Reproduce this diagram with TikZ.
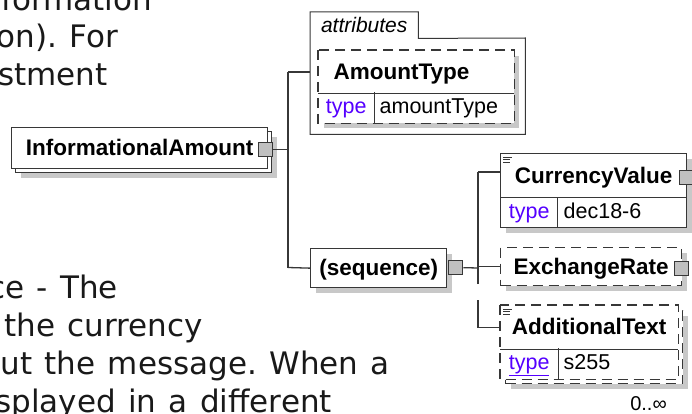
\documentclass[tikz,border=0pt]{standalone}
\usepackage{fontspec}
\setmainfont{Liberation Sans}
\newfontfamily\bodyfont{DejaVu Sans}[WordSpace=1.25]
\usetikzlibrary{positioning, shadows}
\frenchspacing

\definecolor{frame}{RGB}{55,55,55}
\definecolor{shadowgray}{RGB}{200,200,200}
\definecolor{typelink}{RGB}{85,0,255}
\definecolor{knobgray}{RGB}{192,192,192}

% three short lines = documentation marker
\newcommand\docmark[1]{%
  \draw[line width=0.6pt, frame] ([xshift=3pt, yshift=-4pt]#1.north west) -- ++(9,0);
  \draw[line width=0.6pt, frame] ([xshift=3pt, yshift=-6.5pt]#1.north west) -- ++(7,0);
  \draw[line width=0.6pt, frame] ([xshift=3pt, yshift=-9pt]#1.north west) -- ++(7,0);}

\begin{document}
\begin{tikzpicture}[
  x=1pt, y=-1pt,
  line/.style={frame, line width=1.3pt},
  box/.style={draw=frame, line width=1.3pt, fill=white, inner sep=0pt,
    anchor=north west, text height=16pt, text depth=1pt,
    font=\fontsize{22.5}{26}\selectfont\bfseries},
  optbox/.style={box, dash pattern=on 10pt off 6pt},
  plain/.style={box, draw=none},
  cell/.style={box, text height=15.5pt, text depth=4.5pt,
    font=\fontsize{21.5}{24}\selectfont, minimum height=30pt},
  plaincell/.style={cell, draw=none},
  shadowed/.style={drop shadow={shadow xshift=5pt, shadow yshift=-5pt,
    fill=shadowgray, opacity=1}},
  knob/.style={draw=frame, line width=1pt, fill=knobgray,
    minimum width=14pt, minimum height=14pt, inner sep=0pt},
  prose/.style={font=\bodyfont\fontsize{31}{38}\selectfont,
    anchor=base east, inner sep=0pt, text=black!90},
]
\useasboundingbox (0,0) rectangle (692,414);
\clip (0,0) rectangle (692,414);

% === text of the page behind the figure ===
\node[prose] (txtA) at (152,11) {formation};
\node[prose] (txtB) at (118,48) {on). For};
\node[prose] (txtC) at (108,86) {stment};
\node[prose] (txtD) at (118,298) {ce - The};
\node[prose] (txtE) at (203,336) {the currency};
\node[prose] (txtF) at (390,374) {ut the message. When a};
\node[prose] (txtG) at (332,412) {splayed in a different};

% === bus lines ===
\coordinate (busTop) at (288,72);
\coordinate (busBot) at (288,267.5);
\coordinate (busCur) at (478,172);
\coordinate (busMid) at (478,268);

% === InformationalAmount ===
\node[box, shadowed, minimum width=256pt, minimum height=41pt]
  (infoBack) at (15,131) {};
\node[box, minimum width=256pt, minimum height=41pt]
  (infoAmt) at (11,127) {InformationalAmount};

% === attributes ===
\node[inner sep=0pt, anchor=north west, minimum width=108pt, minimum height=26pt,
  text height=15pt, text depth=0pt, font=\fontsize{21}{24}\selectfont\itshape]
  (attrTab) at (310,12) {attributes};
\node[inner sep=0pt, anchor=north west, minimum width=215pt, minimum height=96pt]
  (attrGroup) at (310,38) {};
\draw[line, line width=1pt] (attrGroup.south west) -- (attrTab.north west)
  -- (attrTab.north east) -- (attrTab.south east) -- (attrGroup.north east)
  -- (attrGroup.south east) -- cycle;

\node[plain, shadowed, minimum width=195pt, minimum height=42pt,
  text width=165pt, inner xsep=15pt, align=left]
  (amtName) at (318,50) {AmountType};
\node[plaincell, shadowed, minimum width=55pt, text=typelink]
  (amtKey) at (318,92) {type};
\node[plaincell, shadowed, text width=128pt, inner xsep=6pt, align=left]
  (amtVal) at (373,92) {amountType};
\draw[line, dash pattern=on 10pt off 6pt] (amtName.north west) rectangle (amtVal.south east);
\draw[line] (amtName.south west) -- (amtName.south east);
\draw[line] (amtKey.north east) -- (amtKey.south east);

% === sequence ===
\node[box, shadowed, minimum width=136pt, minimum height=39pt]
  (seq) at (310,248) {(sequence)};

% === children of the sequence ===
\node[box, shadowed, minimum width=186pt, minimum height=44pt]
  (currName) at (500,153) {CurrencyValue};
\node[cell, shadowed, minimum width=57pt, text=typelink]
  (currKey) at (500,197) {type};
\node[cell, shadowed, text width=117pt, inner xsep=6pt, align=left]
  (currVal) at (557,197) {dec18-6};
\docmark{currName}

\node[optbox, shadowed, minimum width=181pt, minimum height=38pt]
  (exchName) at (500,247) {ExchangeRate};

\node[optbox, shadowed, minimum width=177pt, minimum height=73pt]
  (addBack) at (505,310) {};
\node[plain, minimum width=177pt, minimum height=43pt]
  (addName) at (500,305) {AdditionalText};
\node[plaincell, minimum width=57pt, text=typelink]
  (addKey) at (500,348) {\underline{type}};
\node[plaincell, text width=108pt, inner xsep=6pt, align=left]
  (addVal) at (557,348) {s255};
\draw[line, dash pattern=on 10pt off 6pt] (addName.north west) rectangle (addVal.south east);
\draw[line] (addName.south west) -- (addName.south east);
\draw[line] (addKey.north east) -- (addKey.south east);
\docmark{addName}
\node[anchor=base east, inner sep=0pt, font=\fontsize{20}{22}\selectfont]
  (addOcc) at (667,410) {0..∞};

% === connector knobs ===
\node[knob] (infoSq) at ([xshift=-2.5pt, yshift=-1.5pt]infoAmt.east) {};
\node[knob] (seqSq) at ([xshift=8.5pt, yshift=0.5pt]seq.east) {};
\node[knob] (currSq) at ([xshift=-1pt, yshift=-2pt]currName.east) {};
\node[knob] (exchSq) at ([xshift=-0.5pt, yshift=-1.5pt]exchName.east) {};

% === connectors ===
\draw[line] (infoSq.east) -- (infoSq.east -| busTop);
\draw[line] (busTop) -- (busBot);
\draw[line] (busTop) -- (attrGroup.west |- busTop);
\draw[line] (busBot) -- (seq.west);
\draw[line] (seqSq.east) -- (busMid);
\draw[line] (busCur) -- (busMid);
\draw[line] (busCur) -- (busCur -| currName.west);
\draw[line] (busMid |- exchName.west) -- (exchName.west);
\draw[line, dash pattern=on 49pt off 16pt] (addName.west)
  -- (addName.west -| busMid) -- (busMid);

\end{tikzpicture}
\end{document}
